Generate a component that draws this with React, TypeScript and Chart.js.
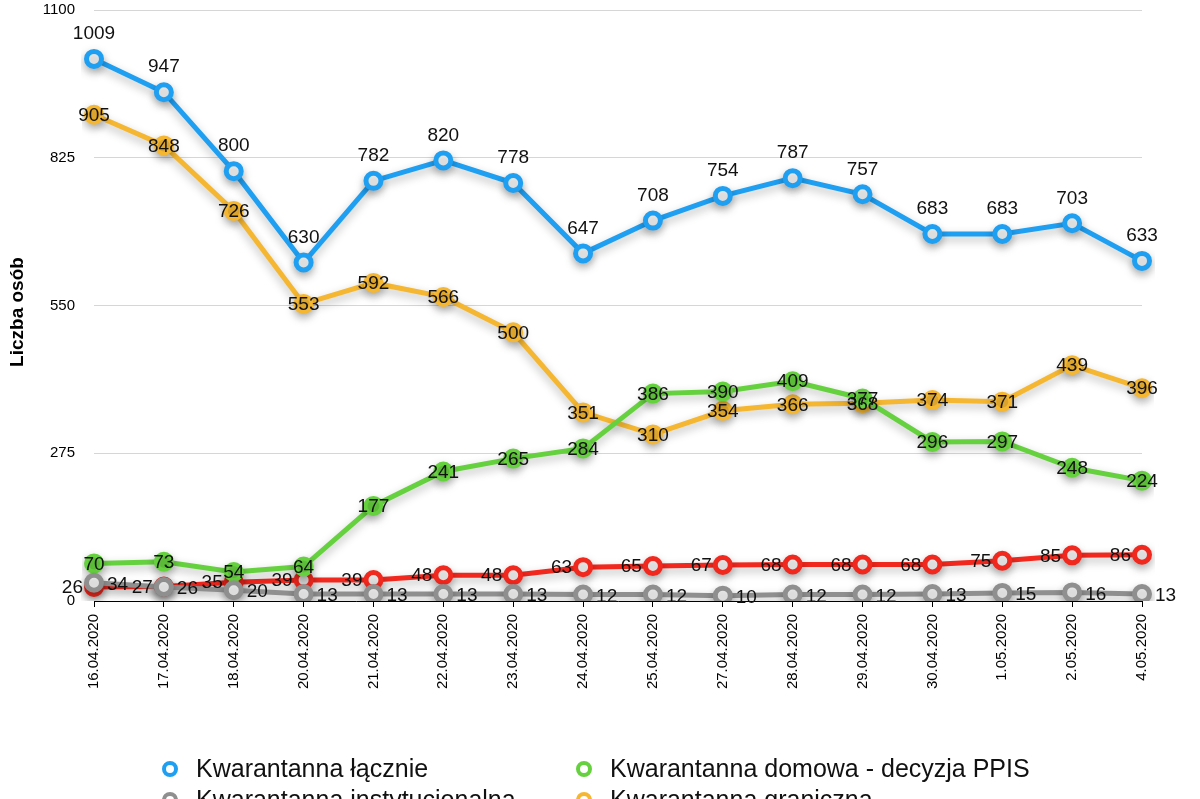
import React, { useEffect, useRef } from 'react';
import { Chart, registerables } from 'chart.js';

Chart.register(...registerables);

const FONT = '"Liberation Sans", Arial, Helvetica, sans-serif';

const dates = [
  '16.04.2020', '17.04.2020', '18.04.2020', '20.04.2020', '21.04.2020', '22.04.2020',
  '23.04.2020', '24.04.2020', '25.04.2020', '27.04.2020', '28.04.2020', '29.04.2020',
  '30.04.2020', '1.05.2020', '2.05.2020', '4.05.2020',
];
const lacznie = [1009, 947, 800, 630, 782, 820, 778, 647, 708, 754, 787, 757, 683, 683, 703, 633];
const domowa = [70, 73, 54, 64, 177, 241, 265, 284, 386, 390, 409, 377, 296, 297, 248, 224];
const instytucjonalna = [34, 26, 20, 13, 13, 13, 13, 12, 12, 10, 12, 12, 13, 15, 16, 13];
const graniczna = [905, 848, 726, 553, 592, 566, 500, 351, 310, 354, 366, 368, 374, 371, 439, 396];
const pozostale = [26, 27, 35, 39, 39, 48, 48, 63, 65, 67, 68, 68, 68, 75, 85, 86];
const yTicks = [0, 275, 550, 825, 1100];
const yTitle = 'Liczba osób';

const BLUE = '#1e9ff2';
const GREEN = '#66d13f';
const GRAY = '#8f8f8f';
const YELLOW = '#f5b731';
const RED = '#f0281e';

const legendItems = [
  { text: 'Kwarantanna łącznie', color: BLUE, col: 0, row: 0 },
  { text: 'Kwarantanna domowa - decyzja PPIS', color: GREEN, col: 1, row: 0 },
  { text: 'Kwarantanna instytucjonalna', color: GRAY, col: 0, row: 1 },
  { text: 'Kwarantanna graniczna', color: YELLOW, col: 1, row: 1 },
  { text: 'Kwarantanna - pozostałe', color: RED, col: 0, row: 2 },
];

const shadowPlugin = {
  id: 'lineShadow',
  beforeDatasetDraw(chart: any) {
    const ctx = chart.ctx;
    ctx.save();
    ctx.shadowColor = 'rgba(0,0,0,0.28)';
    ctx.shadowBlur = 10;
    ctx.shadowOffsetX = 0;
    ctx.shadowOffsetY = 4;
  },
  afterDatasetDraw(chart: any) {
    chart.ctx.restore();
  },
};

const labelPlugin = {
  id: 'valueLabels',
  afterDatasetsDraw(chart: any) {
    const ctx = chart.ctx;
    ctx.save();
    ctx.font = '19px ' + FONT;
    ctx.fillStyle = '#111';
    const orderIdx = [4, 2, 3, 1, 0];
    orderIdx.forEach((i) => {
      const ds: any = chart.data.datasets[i];
      const meta = chart.getDatasetMeta(i);
      meta.data.forEach((pt: any, j: number) => {
        const v = String(ds.data[j]);
        const pos = ds.labelPos;
        ctx.textBaseline = 'middle';
        if (pos === 'top') {
          ctx.textAlign = 'center';
          ctx.fillText(v, pt.x, pt.y - 25);
        } else if (pos === 'left') {
          ctx.textAlign = 'right';
          ctx.fillText(v, pt.x - 11, pt.y + 1);
        } else if (pos === 'right') {
          ctx.textAlign = 'left';
          ctx.fillText(v, pt.x + 13, pt.y + 2);
        } else {
          ctx.textAlign = 'center';
          ctx.fillText(v, pt.x, pt.y + 1);
        }
      });
    });
    ctx.restore();
  },
};

const legendPlugin = {
  id: 'customLegend',
  afterDraw(chart: any) {
    const ctx = chart.ctx;
    ctx.save();
    // y-axis title
    ctx.save();
    ctx.translate(18, 312);
    ctx.rotate(-Math.PI / 2);
    ctx.font = 'bold 19px ' + FONT;
    ctx.fillStyle = '#000';
    ctx.textAlign = 'center';
    ctx.textBaseline = 'middle';
    ctx.fillText(yTitle, 0, 0);
    ctx.restore();

    ctx.font = '25px ' + FONT;
    ctx.textAlign = 'left';
    ctx.textBaseline = 'middle';
    const colX = [170, 584];
    const rowY = [769, 800, 831];
    legendItems.forEach((it) => {
      const x = colX[it.col];
      const y = rowY[it.row];
      ctx.beginPath();
      ctx.arc(x, y, 6, 0, Math.PI * 2);
      ctx.fillStyle = '#fff';
      ctx.fill();
      ctx.lineWidth = 4;
      ctx.strokeStyle = it.color;
      ctx.stroke();
      ctx.fillStyle = '#111';
      ctx.fillText(it.text, x + 26, y + 1);
    });
    ctx.restore();
  },
};

export default function App() {
  const ref = useRef<HTMLCanvasElement | null>(null);

  useEffect(() => {
    document.body.style.margin = '0';
    if (!ref.current) return;
    const mk = (label: string, data: number[], color: string, filled: boolean, labelPos: string, order: number) => ({
      label,
      data,
      borderColor: color,
      backgroundColor: color,
      borderWidth: 5,
      pointRadius: filled ? 8 : 7.5,
      pointBorderWidth: filled ? 4 : 5,
      pointBackgroundColor: filled ? color : '#fff',
      pointBorderColor: color,
      pointHoverRadius: 8,
      tension: 0,
      fill: false,
      labelPos,
      order,
    });
    const chart = new Chart(ref.current, {
      type: 'line',
      data: {
        labels: dates,
        datasets: [
          mk('Kwarantanna łącznie', lacznie, BLUE, false, 'top', 0),
          mk('Kwarantanna domowa - decyzja PPIS', domowa, GREEN, true, 'center', 2),
          mk('Kwarantanna instytucjonalna', instytucjonalna, GRAY, false, 'right', 1),
          mk('Kwarantanna graniczna', graniczna, YELLOW, true, 'center', 3),
          mk('Kwarantanna - pozostałe', pozostale, RED, false, 'left', 4),
        ] as any,
      },
      options: {
        responsive: false,
        animation: false,
        layout: { autoPadding: false, padding: { top: 10, right: 58, left: 0, bottom: 0 } },
        plugins: {
          legend: { display: false },
          tooltip: { enabled: false },
        },
        scales: {
          x: {
            offset: false,
            grid: { display: true, drawOnChartArea: false, drawTicks: true, tickLength: 6, color: '#000' },
            border: { display: true, color: '#000', width: 1 },
            ticks: {
              autoSkip: false,
              maxRotation: 90,
              minRotation: 90,
              padding: 7,
              color: '#000',
              font: { size: 15, family: FONT },
            },
            afterFit(scale: any) {
              scale.height = 198;
              scale.paddingLeft = 0;
              scale.paddingRight = 0;
              scale.paddingTop = 0;
              scale.paddingBottom = 0;
            },
          },
          y: {
            min: 0,
            max: 1100,
            afterBuildTicks(scale: any) {
              scale.ticks = yTicks.map((v) => ({ value: v }));
            },
            ticks: {
              padding: 19,
              color: '#000',
              font: { size: 15, family: FONT },
              callback: (v: any) => String(v),
            },
            grid: { color: '#d6d6d6', drawTicks: false, lineWidth: 1 },
            border: { display: false },
            title: { display: false },
            afterFit(scale: any) {
              scale.width = 94;
              scale.paddingTop = 0;
              scale.paddingBottom = 0;
              scale.paddingLeft = 0;
              scale.paddingRight = 0;
            },
          },
        },
      } as any,
      plugins: [shadowPlugin, labelPlugin, legendPlugin],
    });
    return () => chart.destroy();
  }, []);

  return (
    <div style={{ width: 1200, height: 799 }}>
      <canvas ref={ref} width={1200} height={799} style={{ display: 'block' }} />
    </div>
  );
}
